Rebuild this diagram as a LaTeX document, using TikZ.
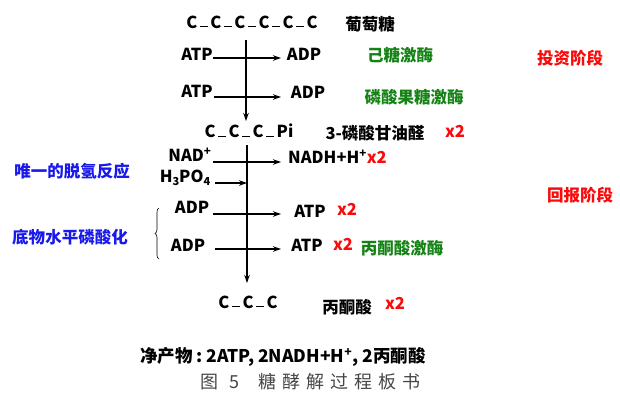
\documentclass[tikz,border=0pt]{standalone}
\usepackage{fontspec}
\setmainfont{Noto Sans CJK SC}
\usetikzlibrary{arrows.meta,decorations.pathreplacing}
\definecolor{myred}{RGB}{250,10,10}
\definecolor{mygreen}{RGB}{20,130,20}
\definecolor{myblue}{RGB}{25,25,235}
\definecolor{capgray}{RGB}{70,70,70}
\newcommand{\bd}{\kern2.5pt\rule[0.1ex]{8pt}{1.1pt}\kern2.5pt}
\newcommand{\sps}{\textsuperscript{+}}
\newcommand{\sbs}[1]{\raisebox{-0.35ex}{\fontsize{11}{11}\selectfont #1}}
\begin{document}
\begin{tikzpicture}[x=1pt,y=-1pt,
  every node/.style={font=\fontsize{16.5}{18}\selectfont\bfseries, inner sep=0pt},
  red/.style={text=myred},
  grn/.style={text=mygreen},
  blu/.style={text=myblue},
  arr/.style={line width=1.1pt,-{Stealth[length=8pt,width=5.5pt]}},
  ln/.style={line width=1.1pt}]
\useasboundingbox (0,0) rectangle (620,394);
% top
\node (glc) at (252,22) {C\bd C\bd C\bd C\bd C\bd C};
\node (glcn) at (370,24) {葡萄糖};
\coordinate (v1s) at (246,40);
\coordinate (v1e) at (246,121);
\draw[arr] (v1s) -- (v1e);
\node (atp1) at (197,54) {ATP};
\node (adp1) at (304,54) {ADP};
\coordinate (a1s) at (213,58); \coordinate (a1e) at (281,58);
\draw[arr] (a1s) -- (a1e);
\node[grn] (hk) at (400,55) {己糖激酶};
\node (atp2) at (197,91) {ATP};
\node (adp2) at (308,92) {ADP};
\coordinate (a2s) at (214,97); \coordinate (a2e) at (281,97);
\draw[arr] (a2s) -- (a2e);
\node[grn] (pfk) at (414,97) {磷酸果糖激酶};
\node[red] (inv) at (570,58) {投资阶段};
% G3P
\node (g3p) at (249,131) {C\bd C\bd C\bd Pi};
\node (g3pn) at (375,133) {3-磷酸甘油醛};
\node[red] (x2a) at (455,131) {x2};
\coordinate (v2s) at (247,145);
\coordinate (v2e) at (247,283);
\draw[arr] (v2s) -- (v2e);
\node (nad) at (190,155) {NAD\sps};
\coordinate (a3s) at (213,162); \coordinate (a3e) at (281,162);
\draw[arr] (a3s) -- (a3e);
\node[anchor=west] (nadh) at (288,157) {NADH+H\sps\textcolor{myred}{x2}};
\node (pi) at (185,178) {H\sbs{3}PO\sbs{4}};
\coordinate (a4s) at (215,183);
\draw[arr] (a4s) -- (a4s -| v2s);
\node[blu] (dh) at (72,171) {唯一的脱氢反应};
\node[red] (ret) at (580,195) {回报阶段};
% substrate level
\node (adp3) at (192,207) {ADP};
\coordinate (a5s) at (213,214); \coordinate (a5e) at (281,214);
\draw[arr] (a5s) -- (a5e);
\node (atp3) at (310,211) {ATP};
\node[red] (x2b) at (347,209) {x2};
\node (adp4) at (188,245) {ADP};
\coordinate (a6s) at (215,249); \coordinate (a6e) at (281,249);
\draw[arr] (a6s) -- (a6e);
\node (atp4) at (307,245) {ATP};
\node[red] (x2c) at (343,244) {x2};
\node[grn] (pk) at (402,248) {丙酮酸激酶};
\coordinate (bt) at (159,208); \coordinate (bb) at (159,259);
\draw[line width=0.6pt, decorate, decoration={brace, amplitude=4pt, mirror}] (bt) -- (bb);
\node[blu] (slp) at (70,237) {底物水平磷酸化};
% pyruvate
\node (pyr) at (248,302) {C\bd C\bd C};
\node (pyrn) at (347,307) {丙酮酸};
\node[red] (x2d) at (395,303) {x2};
% bottom
\node[anchor=west, font=\fontsize{17.5}{19}\selectfont\bfseries] (net) at (140,357) {净产物\hspace{4pt}:\hspace{4pt}2ATP, 2NADH+H\sps, 2丙酮酸};
\node[anchor=west, font=\fontsize{18}{20}\selectfont, text=capgray] (cap) at (200,382) {图\hspace{11pt}5\hspace{19pt}糖\hspace{6pt}酵\hspace{6pt}解\hspace{6pt}过\hspace{6pt}程\hspace{6pt}板\hspace{6pt}书};
\end{tikzpicture}
\end{document}
